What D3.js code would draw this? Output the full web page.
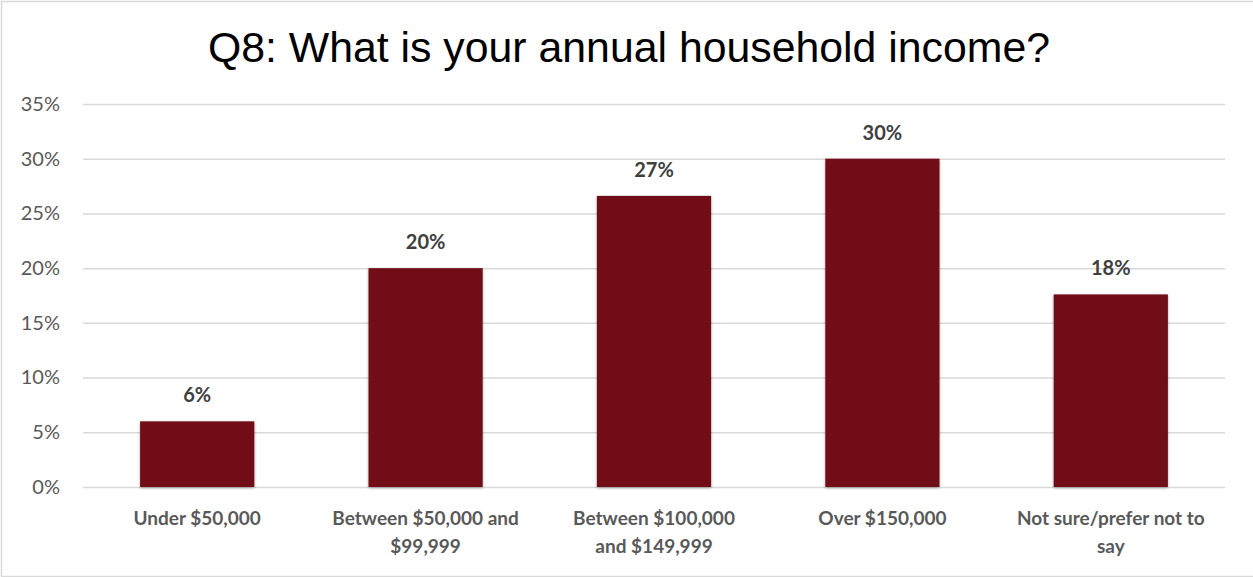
<!DOCTYPE html>
<html>
<head>
<meta charset="utf-8">
<script src="https://cdn.jsdelivr.net/npm/d3@7"></script>
<style>
  html, body { margin: 0; padding: 0; background: #fff; }
  svg { display: block; }
</style>
</head>
<body>
<script>
// Household income distribution
const categories = [
  ["Under $50,000"],
  ["Between $50,000 and", "$99,999"],
  ["Between $100,000", "and $149,999"],
  ["Over $150,000"],
  ["Not sure/prefer not to", "say"]
];
const shares = [0.06, 0.20, 0.266, 0.30, 0.176];
const yTicks = [0, 0.05, 0.10, 0.15, 0.20, 0.25, 0.30, 0.35];
const titleText = "Q8: What is your annual household income?";

const W = 1253, H = 577;
const plot = { left: 83, right: 1225, top: 104, bottom: 487 };
const bodyFont = "Lato, 'Open Sans', sans-serif";

const svg = d3.select("body").append("svg")
  .attr("width", W).attr("height", H);

// soft shadow under bars
const defs = svg.append("defs");
const f = defs.append("filter").attr("id", "barShadow")
  .attr("x", "-10%").attr("y", "-10%").attr("width", "120%").attr("height", "120%");
f.append("feDropShadow").attr("dx", 0).attr("dy", 1).attr("stdDeviation", 1.6)
  .attr("flood-color", "#000").attr("flood-opacity", 0.35);

// chart frame
svg.append("rect")
  .attr("x", 1.5).attr("y", 1.5).attr("width", W + 4).attr("height", H - 2)
  .attr("fill", "none").attr("stroke", "#d9d9d9").attr("stroke-width", 1.5);

const x = d3.scaleBand()
  .domain(categories.map((c, i) => i))
  .range([plot.left, plot.right])
  .paddingInner(0.5).paddingOuter(0.25);

const y = d3.scaleLinear().domain([0, 0.35]).range([plot.bottom, plot.top]);

// gridlines + y labels
const yAxis = d3.axisLeft(y).tickValues(yTicks)
  .tickFormat(d3.format(".0%"))
  .tickSize(-(plot.right - plot.left)).tickPadding(23);
const gy = svg.append("g").attr("transform", `translate(${plot.left},0)`).call(yAxis);
gy.select(".domain").remove();
gy.selectAll(".tick line").attr("stroke", "#d9d9d9").attr("stroke-width", 1.5);
gy.selectAll(".tick text")
  .attr("fill", "#595959")
  .style("font-family", bodyFont)
  .style("font-size", "20px");

// bars
svg.append("g").selectAll("rect").data(shares).join("rect")
  .attr("x", (d, i) => x(i))
  .attr("y", d => y(d))
  .attr("width", x.bandwidth())
  .attr("height", d => y(0) - y(d))
  .attr("fill", "#701118")
  .attr("filter", "url(#barShadow)");

// value labels
svg.append("g").selectAll("text").data(shares).join("text")
  .attr("x", (d, i) => x(i) + x.bandwidth() / 2)
  .attr("y", d => y(d) - 19)
  .attr("text-anchor", "middle")
  .attr("fill", "#404040")
  .style("font-family", bodyFont)
  .style("font-weight", "bold")
  .style("font-size", "20px")
  .text(d => d3.format(".0%")(d));

// category labels
const xAxis = d3.axisBottom(x).tickSize(0).tickFormat("");
const gx = svg.append("g").attr("transform", `translate(0,${plot.bottom})`).call(xAxis);
gx.select(".domain").remove();
gx.selectAll(".tick").each(function(i) {
  const t = d3.select(this).append("text")
    .attr("text-anchor", "middle")
    .attr("fill", "#595959")
    .style("font-family", bodyFont)
    .style("font-weight", "bold")
    .style("font-size", "19px");
  categories[i].forEach((line, k) => {
    t.append("tspan").attr("x", 0).attr("y", 38 + k * 28).text(line);
  });
});

// title
svg.append("text")
  .attr("x", 629).attr("y", 62)
  .attr("text-anchor", "middle")
  .attr("fill", "#000")
  .style("font-family", "'Liberation Sans', Arial, sans-serif")
  .style("font-size", "42.8px")
  .text(titleText);
</script>
</body>
</html>
